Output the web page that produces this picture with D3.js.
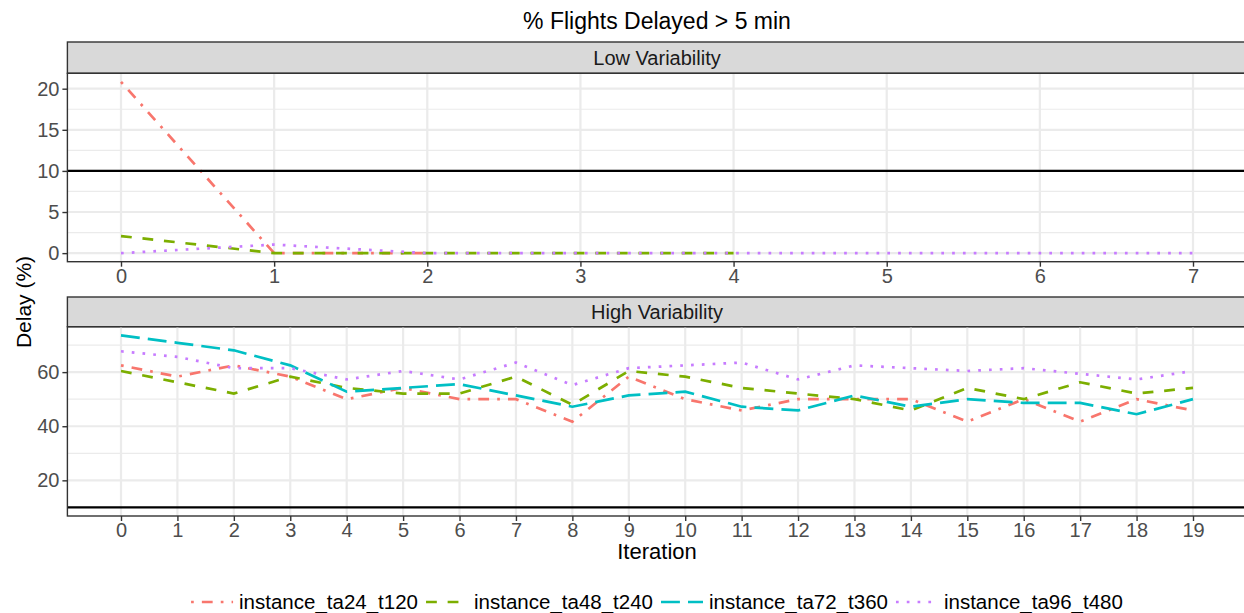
<!DOCTYPE html>
<html>
<head>
<meta charset="utf-8">
<script src="https://cdn.jsdelivr.net/npm/d3@7"></script>
<style>
  body { margin: 0; background: #fff; }
  svg text { font-family: "Liberation Sans", Arial, sans-serif; }
</style>
</head>
<body>
<div id="my_dataviz"></div>
<script>
// series names (legend order)
const seriesNames = ["instance_ta24_t120", "instance_ta48_t240", "instance_ta72_t360", "instance_ta96_t480"];

// Low Variability, value per iteration (index = iteration)
const lowTa24 = [20.83, 0, 0];
const lowTa48 = [2.08, 0, 0, 0, 0];
const lowTa72 = [];
const lowTa96 = [0, 1.04, 0, 0, 0, 0, 0, 0];

// High Variability, value per iteration 0..19
const highTa24 = [62.5, 58.33, 62.5, 58.33, 50, 54.17, 50, 50, 41.67, 58.33, 50, 45.83, 50, 50, 50, 41.67, 50, 41.67, 50, 45.83];
const highTa48 = [60.42, 56.25, 52.08, 58.33, 54.17, 52.08, 52.08, 58.33, 47.92, 60.42, 58.33, 54.17, 52.08, 50, 45.83, 54.17, 50, 56.25, 52.08, 54.17];
const highTa72 = [73.61, 70.83, 68.06, 62.5, 52.78, 54.17, 55.56, 51.39, 47.22, 51.39, 52.78, 47.22, 45.83, 51.39, 47.22, 50, 48.61, 48.61, 44.44, 50];
const highTa96 = [67.71, 65.63, 61.46, 61.46, 57.29, 60.42, 57.29, 63.54, 55.21, 61.46, 62.5, 63.54, 57.29, 62.5, 61.46, 60.42, 61.46, 59.38, 57.29, 60.42];

// target line
const threshold = 10;

// tick labels
const lowYTicks = [0, 5, 10, 15, 20];
const highYTicks = [20, 40, 60];
const lowXTicks = [0, 1, 2, 3, 4, 5, 6, 7];
const highXTicks = [0, 1, 2, 3, 4, 5, 6, 7, 8, 9, 10, 11, 12, 13, 14, 15, 16, 17, 18, 19];

// styles
const colors = ["#F8766D", "#7CAE00", "#00BFC4", "#C77CFF"];
const lw = 2.7;
const dashes = [
  [1, 3, 4, 3].map((d) => d * lw).join(","), // dotdash
  [4, 4].map((d) => d * lw).join(","),       // dashed
  [7, 3].map((d) => d * lw).join(","),       // longdash
  [1, 3].map((d) => d * lw).join(",")        // dotted
];

const W = 1244, H = 613;
const panelLeft = 67.4, panelRight = 1246.6;
const font = "20px";

const svg = d3
  .select("#my_dataviz")
  .append("svg")
  .attr("width", W)
  .attr("height", H);

// ggplot style 5% expansion
function expand(ext) {
  const pad = (ext[1] - ext[0]) * 0.05;
  return [ext[0] - pad, ext[1] + pad];
}

function drawPanel(p, idx) {
  const allY = p.series.flat().concat([threshold]);
  const x = d3.scaleLinear().domain(expand([0, p.maxX])).range([panelLeft, panelRight]);
  const y = d3.scaleLinear().domain(expand(d3.extent(allY))).range([p.bottom, p.top]);

  const g = svg.append("g");

  // strip
  g.append("rect")
    .attr("x", panelLeft).attr("y", p.stripTop)
    .attr("width", panelRight - panelLeft).attr("height", p.top - p.stripTop)
    .attr("fill", "#D9D9D9").attr("stroke", "#333333").attr("stroke-width", 1.4);
  g.append("text")
    .attr("x", (panelLeft + panelRight) / 2)
    .attr("y", (p.stripTop + p.top) / 2)
    .attr("dy", "0.36em")
    .attr("text-anchor", "middle")
    .style("font-size", font)
    .style("fill", "#1A1A1A")
    .text(p.label);

  // grid
  g.selectAll(".minor")
    .data(p.yMinor)
    .join("line")
    .attr("x1", panelLeft).attr("x2", panelRight)
    .attr("y1", (d) => y(d)).attr("y2", (d) => y(d))
    .attr("stroke", "#EBEBEB").attr("stroke-width", 1.2);
  g.selectAll(".majorY")
    .data(p.yTicks)
    .join("line")
    .attr("x1", panelLeft).attr("x2", panelRight)
    .attr("y1", (d) => y(d)).attr("y2", (d) => y(d))
    .attr("stroke", "#EBEBEB").attr("stroke-width", 2.2);
  g.selectAll(".majorX")
    .data(p.xTicks)
    .join("line")
    .attr("x1", (d) => x(d)).attr("x2", (d) => x(d))
    .attr("y1", p.top).attr("y2", p.bottom)
    .attr("stroke", "#EBEBEB").attr("stroke-width", 2.2);

  // lines
  const clipId = "clip" + idx;
  svg.append("clipPath").attr("id", clipId)
    .append("rect")
    .attr("x", panelLeft).attr("y", p.top)
    .attr("width", panelRight - panelLeft).attr("height", p.bottom - p.top);

  const line = d3.line().x((d, i) => x(i)).y((d) => y(d));
  g.append("g")
    .attr("clip-path", `url(#${clipId})`)
    .selectAll("path")
    .data(p.series)
    .join("path")
    .attr("d", (d) => (d.length ? line(d) : null))
    .attr("fill", "none")
    .attr("stroke", (d, i) => colors[i])
    .attr("stroke-width", lw)
    .attr("stroke-dasharray", (d, i) => dashes[i])
    .attr("stroke-linecap", "butt");

  // threshold line
  g.append("line")
    .attr("x1", panelLeft).attr("x2", panelRight)
    .attr("y1", y(threshold)).attr("y2", y(threshold))
    .attr("stroke", "#000").attr("stroke-width", 2.2);

  // border
  g.append("rect")
    .attr("x", panelLeft).attr("y", p.top)
    .attr("width", panelRight - panelLeft).attr("height", p.bottom - p.top)
    .attr("fill", "none").attr("stroke", "#333333").attr("stroke-width", 1.4);

  // axes
  const yAxis = g.append("g")
    .attr("transform", `translate(${panelLeft},0)`)
    .call(d3.axisLeft(y).tickValues(p.yTicks).tickSize(5).tickPadding(3));
  const xAxis = g.append("g")
    .attr("transform", `translate(0,${p.bottom})`)
    .call(d3.axisBottom(x).tickValues(p.xTicks).tickSize(5).tickPadding(2));
  [yAxis, xAxis].forEach((a) => {
    a.select(".domain").remove();
    a.selectAll("line").attr("stroke", "#333333").attr("stroke-width", 1.4);
    a.selectAll("text")
      .style("font-size", font)
      .style("fill", "#4D4D4D")
      .style("font-family", "Liberation Sans, Arial, sans-serif");
  });
}

const panels = [
  {
    label: "Low Variability",
    series: [lowTa24, lowTa48, lowTa72, lowTa96],
    maxX: 7,
    xTicks: lowXTicks,
    yTicks: lowYTicks,
    yMinor: [2.5, 7.5, 12.5, 17.5],
    stripTop: 42,
    top: 73.3,
    bottom: 261.7
  },
  {
    label: "High Variability",
    series: [highTa24, highTa48, highTa72, highTa96],
    maxX: 19,
    xTicks: highXTicks,
    yTicks: highYTicks,
    yMinor: [10, 30, 50, 70],
    stripTop: 297,
    top: 326.7,
    bottom: 516
  }
];
panels.forEach(drawPanel);

// title
svg.append("text")
  .attr("x", (panelLeft + panelRight) / 2)
  .attr("y", 29)
  .attr("text-anchor", "middle")
  .style("font-size", "23px")
  .style("fill", "#000")
  .text("% Flights Delayed > 5 min");

// axis titles
svg.append("text")
  .attr("x", (panelLeft + panelRight) / 2)
  .attr("y", 559)
  .attr("text-anchor", "middle")
  .style("font-size", "22px")
  .style("fill", "#000")
  .text("Iteration");

svg.append("text")
  .attr("transform", "translate(31,302) rotate(-90)")
  .attr("text-anchor", "middle")
  .style("font-size", "21px")
  .style("fill", "#000")
  .text("Delay (%)");

// legend
const keyLen = 42, keyGap = 6, itemGap = 8, legendY = 602;
const legend = svg.append("g");
const items = legend.selectAll("g")
  .data(seriesNames)
  .join("g");
items.append("line")
  .attr("x1", 0).attr("x2", keyLen)
  .attr("y1", 0).attr("y2", 0)
  .attr("stroke", (d, i) => colors[i])
  .attr("stroke-width", lw)
  .attr("stroke-dasharray", (d, i) => dashes[i]);
items.append("text")
  .attr("x", keyLen + keyGap)
  .attr("dy", "0.36em")
  .style("font-size", "20.5px")
  .style("fill", "#000")
  .text((d) => d);
let offs = 0;
const offsets = [];
items.each(function () {
  offsets.push(offs);
  const tw = d3.select(this).select("text").node().getComputedTextLength();
  offs += keyLen + keyGap + tw + itemGap;
});
const totalW = offs - itemGap;
const startX = (panelLeft + panelRight) / 2 - totalW / 2;
items.attr("transform", (d, i) => `translate(${startX + offsets[i]},${legendY})`);
</script>
</body>
</html>
